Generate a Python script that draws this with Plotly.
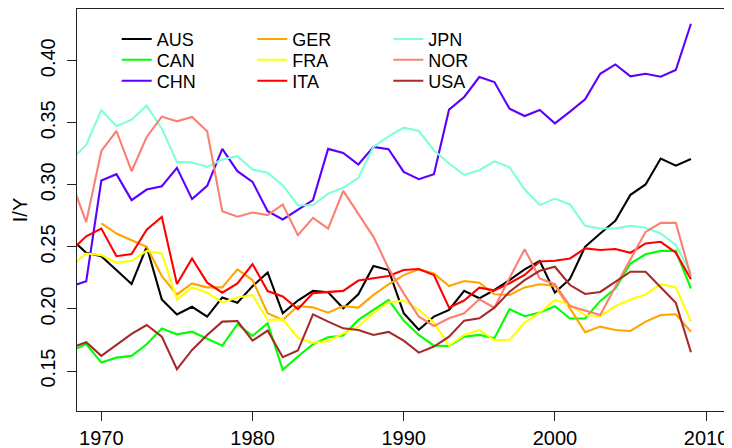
import plotly.graph_objects as go

years = list(range(1968, 2010))

AUS = [0.2565, 0.2453, 0.2426, 0.2313, 0.2201, 0.2501, 0.2077, 0.1956, 0.2018, 0.1938, 0.2093, 0.2050, 0.2184, 0.2294, 0.1966, 0.2068, 0.2146, 0.2135, 0.2006, 0.2118, 0.2346, 0.2314, 0.1966, 0.1832, 0.1939, 0.1992, 0.2146, 0.2086, 0.2153, 0.2233, 0.2319, 0.2386, 0.2132, 0.2242, 0.2501, 0.2608, 0.2710, 0.2920, 0.3003, 0.3212, 0.3155, 0.3209]
CAN = [0.1661, 0.1718, 0.1568, 0.1608, 0.1622, 0.1716, 0.1842, 0.1796, 0.1817, 0.1764, 0.1705, 0.1877, 0.1783, 0.1885, 0.1510, 0.1617, 0.1716, 0.1772, 0.1786, 0.1912, 0.1992, 0.2073, 0.1906, 0.1791, 0.1705, 0.1702, 0.1777, 0.1791, 0.1765, 0.1998, 0.1942, 0.1971, 0.2022, 0.1923, 0.1923, 0.2065, 0.2164, 0.2366, 0.2441, 0.2468, 0.2468, 0.2165]
CHN = [0.2182, 0.2223, 0.3035, 0.3086, 0.2877, 0.2962, 0.2989, 0.3137, 0.2885, 0.2992, 0.3290, 0.3110, 0.3024, 0.2788, 0.2721, 0.2802, 0.2877, 0.3290, 0.3257, 0.3164, 0.3306, 0.3287, 0.3105, 0.3046, 0.3086, 0.3606, 0.3708, 0.3869, 0.3828, 0.3614, 0.3555, 0.3603, 0.3496, 0.3590, 0.3689, 0.3895, 0.3970, 0.3874, 0.3895, 0.3871, 0.3925, 0.4298]
GER = [None, None, 0.2689, 0.2608, 0.2554, 0.2501, 0.2265, 0.2117, 0.2206, 0.2174, 0.2174, 0.2319, 0.2233, 0.1965, 0.1911, 0.2024, 0.2013, 0.1970, 0.2024, 0.2011, 0.2113, 0.2199, 0.2273, 0.2319, 0.2287, 0.2185, 0.2225, 0.2212, 0.2118, 0.2113, 0.2174, 0.2199, 0.2185, 0.2005, 0.1812, 0.1858, 0.1831, 0.1823, 0.1898, 0.1951, 0.1957, 0.1817]
FRA = [0.2347, 0.2447, 0.2434, 0.2372, 0.2388, 0.2469, 0.2447, 0.2077, 0.2174, 0.2131, 0.2053, 0.2093, 0.2112, 0.1911, 0.1916, 0.1768, 0.1728, 0.1741, 0.1803, 0.1857, 0.1970, 0.2053, 0.2067, 0.1992, 0.1890, 0.1705, 0.1791, 0.1831, 0.1750, 0.1750, 0.1890, 0.1970, 0.2072, 0.2032, 0.1951, 0.1942, 0.2022, 0.2077, 0.2117, 0.2200, 0.2174, 0.1898]
ITA = [0.2469, 0.2586, 0.2648, 0.2425, 0.2442, 0.2639, 0.2742, 0.2201, 0.2407, 0.2212, 0.2131, 0.2206, 0.2362, 0.2144, 0.2101, 0.1999, 0.2128, 0.2135, 0.2146, 0.2229, 0.2247, 0.2266, 0.2314, 0.2322, 0.2274, 0.2011, 0.2068, 0.2172, 0.2150, 0.2207, 0.2274, 0.2382, 0.2389, 0.2407, 0.2488, 0.2475, 0.2483, 0.2453, 0.2528, 0.2541, 0.2453, 0.2239]
JPN = [0.3200, 0.3322, 0.3603, 0.3472, 0.3525, 0.3638, 0.3453, 0.3185, 0.3180, 0.3145, 0.3204, 0.3231, 0.3123, 0.3097, 0.2997, 0.2836, 0.2836, 0.2930, 0.2976, 0.3056, 0.3306, 0.3391, 0.3461, 0.3434, 0.3279, 0.3172, 0.3080, 0.3118, 0.3190, 0.3142, 0.2962, 0.2837, 0.2889, 0.2842, 0.2670, 0.2648, 0.2648, 0.2670, 0.2654, 0.2608, 0.2515, 0.2287]
NOR = [0.3030, 0.2700, 0.3273, 0.3434, 0.3110, 0.3386, 0.3550, 0.3512, 0.3547, 0.3432, 0.2788, 0.2743, 0.2777, 0.2756, 0.2842, 0.2595, 0.2734, 0.2648, 0.2951, 0.2769, 0.2581, 0.2327, 0.2126, 0.1938, 0.1863, 0.1925, 0.1965, 0.2078, 0.2010, 0.2250, 0.2482, 0.2246, 0.2200, 0.2023, 0.1986, 0.1951, 0.2180, 0.2400, 0.2621, 0.2694, 0.2694, 0.2260]
USA = [0.1688, 0.1732, 0.1622, 0.1710, 0.1799, 0.1871, 0.1777, 0.1514, 0.1670, 0.1791, 0.1898, 0.1903, 0.1745, 0.1826, 0.1611, 0.1665, 0.1957, 0.1898, 0.1844, 0.1831, 0.1791, 0.1815, 0.1745, 0.1648, 0.1697, 0.1777, 0.1906, 0.1925, 0.2011, 0.2139, 0.2233, 0.2308, 0.2340, 0.2193, 0.2121, 0.2137, 0.2220, 0.2300, 0.2300, 0.2174, 0.2050, 0.1651]

x_ticks = [1970, 1980, 1990, 2000, 2010]
y_ticks = [0.15, 0.20, 0.25, 0.30, 0.35, 0.40]

names = ["AUS", "CAN", "CHN", "GER", "FRA", "ITA", "JPN", "NOR", "USA"]
values = [AUS, CAN, CHN, GER, FRA, ITA, JPN, NOR, USA]
colors = ["#000000", "#00FF00", "#5B00FF", "#FFA500", "#FFFF00", "#FF0000", "#7FFFD4", "#FA8072", "#A52A2A"]

FONT = "Liberation Sans, Arial, Helvetica, sans-serif"

# page body has an 8px margin: figure is laid out 8px smaller
W, H = 724, 440
ML, MR, MT, MB = 69, 1, 1, 37
PW, PH = W - ML - MR, H - MT - MB

# legend positions in figure pixels: text left x per column, line centre y per row
col_text_x = [148.7, 284.3, 420.3]
row_y = [31.3, 52.0, 73.0]

fig = go.Figure()
layout_legends = {}
for i, (name, vals, col) in enumerate(zip(names, values, colors)):
    key = "legend" if i == 0 else f"legend{i + 1}"
    c, r = divmod(i, 3)
    lx = (col_text_x[c] - 40 - ML) / PW
    ly = 1 - (row_y[r] - MT) / PH
    layout_legends[key] = dict(x=lx, y=ly, xanchor="left", yanchor="middle",
                               bgcolor="rgba(0,0,0,0)", borderwidth=0,
                               font=dict(family=FONT, size=18, color="#000"),
                               itemclick=False, itemdoubleclick=False)
    fig.add_trace(go.Scatter(x=years, y=vals, mode="lines", name=name,
                             line=dict(color=col, width=2.1),
                             legend=key, connectgaps=False))

fig.update_layout(
    width=W, height=H,
    margin=dict(l=ML, r=MR, t=MT, b=MB),
    paper_bgcolor="white", plot_bgcolor="white",
    font=dict(family=FONT, size=20, color="#000"),
    showlegend=True,
    xaxis=dict(range=[1968.39, 2011.65], tickvals=x_ticks, ticktext=[str(v) for v in x_ticks],
               showgrid=False, zeroline=False, showline=True, mirror=True, automargin=False,
               linecolor="#222", linewidth=1, ticks="outside", ticklen=9, tickcolor="#222",
               tickfont=dict(family=FONT, size=20, color="#000")),
    yaxis=dict(range=[0.1178, 0.4417], tickvals=y_ticks, ticktext=[f"{v:.2f}" for v in y_ticks],
               showgrid=False, zeroline=False, showline=True, mirror=True, automargin=False,
               linecolor="#222", linewidth=1, ticks="outside", ticklen=9, tickcolor="#222",
               tickangle=-90, ticklabelstandoff=4,
               tickfont=dict(family=FONT, size=20, color="#000"),
               title=dict(text="I/Y", font=dict(family=FONT, size=20, color="#000"), standoff=4)),
    **layout_legends,
)

fig.write_html("out.html")
